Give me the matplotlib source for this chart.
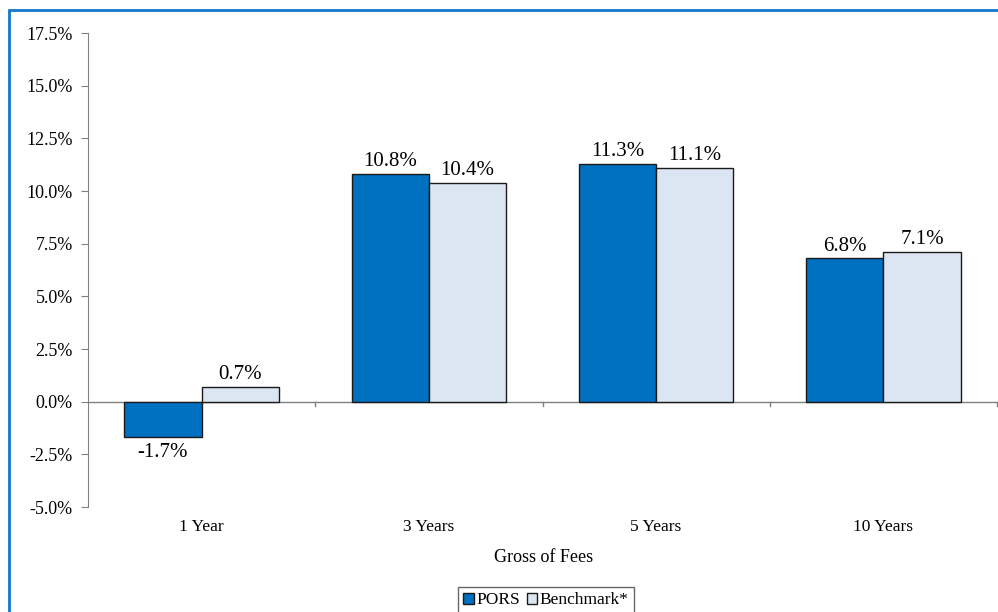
import numpy as np
import matplotlib.pyplot as plt
from matplotlib.patches import Rectangle

# trailing returns, gross of fees
periods = ['1 Year', '3 Years', '5 Years', '10 Years']
pors = [-1.7, 10.8, 11.3, 6.8]
benchmark = [0.7, 10.4, 11.1, 7.1]
yticks = [-5.0, -2.5, 0.0, 2.5, 5.0, 7.5, 10.0, 12.5, 15.0, 17.5]

plt.rcParams['font.family'] = ['Liberation Serif', 'DejaVu Serif']

fig = plt.figure(figsize=(9.98, 6.12), dpi=100)
ax = fig.add_axes([88/998, 1 - 507/612, (997 - 88)/998, (507 - 33)/612])

x = np.arange(len(periods))
w = 0.34
b1 = ax.bar(x - w/2, pors, w, color='#0070C0', edgecolor='#1a1a1a', linewidth=1.0, label='PORS', zorder=3)
b2 = ax.bar(x + w/2, benchmark, w, color='#DCE6F2', edgecolor='#1a1a1a', linewidth=1.0, label='Benchmark*', zorder=3)

for bars, vals in [(b1, pors), (b2, benchmark)]:
    for bar, v in zip(bars, vals):
        cx = bar.get_x() + bar.get_width()/2
        if v >= 0:
            ax.annotate(f'{v:.1f}%', (cx, v), xytext=(0, 2), textcoords='offset points',
                        ha='center', va='bottom', fontsize=15)
        else:
            ax.annotate(f'{v:.1f}%', (cx, v), xytext=(0, -4), textcoords='offset points',
                        ha='center', va='top', fontsize=15)

ax.set_xlim(-0.5, 3.5)
ax.set_ylim(-5, 17.5)
ax.set_yticks(yticks)
ax.set_yticklabels([f'{t:.1f}%' for t in yticks], fontsize=13)

# zero line carries the category separators
for s in ['top', 'right', 'bottom']:
    ax.spines[s].set_visible(False)
ax.spines['left'].set_color('#808080')
ax.axhline(0, color='#808080', linewidth=1.0, zorder=2)
ax.tick_params(axis='y', direction='out', length=5, color='#808080', pad=6)
ax.set_xticks([])
for b in [0.5, 1.5, 2.5, 3.5]:
    ax.plot([b, b], [0, -0.2], color='#808080', linewidth=1.0, clip_on=False)
for i, p in enumerate(periods):
    ax.text(i, -5.95, p, ha='center', va='center', fontsize=12.5)

fig.text(544/998, 1 - 557/612, 'Gross of Fees', ha='center', va='center', fontsize=13)

leg = fig.legend(handles=[b1, b2], loc='upper center', bbox_to_anchor=(546/998, 1 - 587/612),
                 ncol=2, fontsize=12.5, frameon=True, fancybox=False, edgecolor='#404040',
                 handlelength=0.6, handleheight=0.6, handletextpad=0.15, columnspacing=0.4,
                 borderpad=0.3, borderaxespad=0)
leg.get_frame().set_linewidth(1.0)

# blue outline of the panel
fig.patches.append(Rectangle((9/998, -0.1), 1.2, 1.1 - 10/612, transform=fig.transFigure,
                             fill=False, edgecolor='#1378CC', linewidth=2.0))

fig.savefig('out.png', dpi=100)
